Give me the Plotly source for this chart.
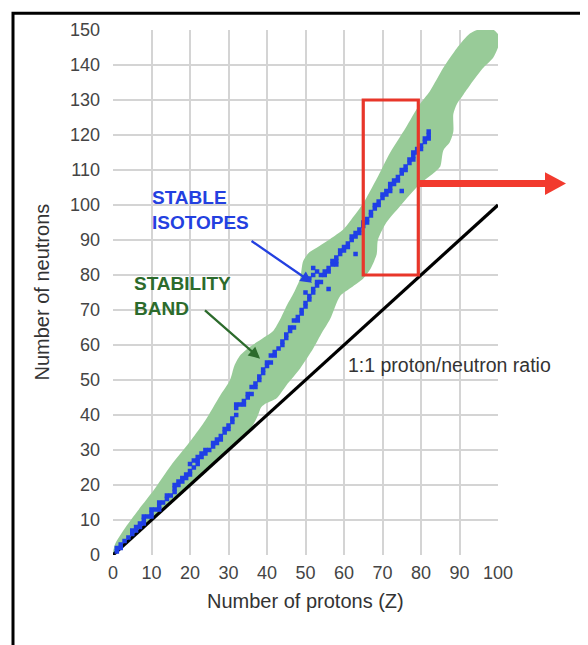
import plotly.graph_objects as go

# ---- data ----
# stable isotopes (protons Z, neutrons N)
iso_z = [1, 1, 2, 2, 3, 4, 5, 5, 6, 6, 7, 7, 8, 8, 8, 9, 10, 10, 10, 11, 12, 12, 12, 13,
         14, 14, 15, 16, 16, 16, 17, 17, 18, 18, 19, 19, 20, 20, 20, 21, 21, 22, 22, 22,
         23, 23, 24, 24, 25, 26, 26, 27, 27, 28, 28, 29, 29, 30, 30, 31, 31, 32, 32, 32,
         33, 34, 34, 35, 35, 36, 36, 37, 37, 38, 38, 39, 39, 40, 40, 41, 41, 42, 42, 43,
         44, 44, 45, 45, 46, 46, 47, 47, 48, 48, 49, 49, 50, 50, 50, 51, 51, 51, 52, 52,
         52, 52, 53, 53, 53, 54, 54, 55, 55, 56, 56, 56, 57, 57, 58, 58, 58, 59, 59, 60,
         60, 61, 61, 62, 62, 63, 63, 63, 64, 64, 65, 65, 66, 66, 67, 67, 68, 68, 69, 69,
         70, 70, 71, 71, 72, 72, 72, 73, 73, 74, 74, 75, 75, 75, 76, 76, 77, 77, 78, 78,
         78, 79, 79, 80, 80, 81, 81, 82, 82, 82]
iso_n = [1, 2, 2, 3, 4, 5, 6, 7, 7, 8, 8, 9, 9, 10, 11, 11, 11, 12, 13, 13, 13, 14, 15, 15,
         16, 17, 17, 18, 19, 20, 20, 21, 21, 22, 22, 23, 23, 24, 26, 25, 27, 26, 27, 28,
         28, 29, 29, 30, 30, 31, 32, 32, 33, 33, 34, 35, 36, 36, 37, 38, 39, 40, 42, 43,
         43, 43, 44, 45, 46, 46, 48, 48, 49, 50, 51, 52, 53, 54, 55, 55, 57, 57, 58, 59,
         60, 61, 62, 63, 64, 65, 65, 67, 67, 68, 69, 70, 71, 72, 75, 73, 74, 79, 75, 76,
         80, 82, 77, 78, 81, 78, 80, 80, 81, 81, 82, 76, 83, 84, 83, 84, 85, 86, 87, 87,
         88, 88, 89, 90, 91, 91, 92, 86, 92, 93, 94, 95, 95, 96, 97, 98, 99, 100, 100, 101,
         102, 103, 103, 104, 104, 105, 106, 106, 107, 107, 108, 104, 109, 110, 110, 111, 112, 113, 113, 114,
         115, 115, 116, 116, 117, 118, 119, 119, 120, 121]

# stability band outline (upper edge going up, lower edge coming back)
band_z = [0, 0.5, 3, 6, 10.5, 15, 20.4, 24, 27.8, 30.4, 31.5, 33, 35.6, 39, 41.6, 43.5,
          45.1, 47, 48.6, 49.4, 51, 52.9, 56.4, 59.8, 62, 65, 68.5, 72, 76, 79.5, 82.3,
          85.8, 89.3, 92.7, 96, 98.5, 100.5,
          100, 98.7, 96, 93.5, 91, 89.3, 88.4, 88.4, 87.5, 85.8, 85, 83.7, 79.7, 74.5, 71,
          68.8, 68.5, 67, 65, 62, 59, 56.4, 54, 52, 48.6, 45.1, 42.5, 39.9, 38.5, 37.5,
          36, 30, 25, 20, 15, 10, 5, 1.5, 0]
band_n = [0, 3, 7.5, 12, 18.4, 25.5, 33, 38.5, 45.5, 50, 54, 57, 59.5, 62, 64, 67.5,
          71.2, 75, 79, 84, 86.5, 87.8, 90.3, 93, 96, 100.5, 107.5, 115, 122, 128.5, 132.5,
          139.2, 144.8, 149, 150.5, 150.3, 148,
          145, 142, 139, 135.4, 131.5, 128.8, 126, 121, 118, 115.6, 111, 109.5, 106, 99.6, 95,
          90, 86, 82, 79, 76.5, 74, 67.4, 63, 59, 53.3, 48.6, 44.8, 43.4, 42.2, 39.5,
          36.5, 30, 24.5, 19.5, 14.5, 9.8, 5, 1.2, 0]

ratio_z = [0, 100]
ratio_n = [0, 100]

x_ticks = [0, 10, 20, 30, 40, 50, 60, 70, 80, 90, 100]
y_ticks = [0, 10, 20, 30, 40, 50, 60, 70, 80, 90, 100, 110, 120, 130, 140, 150]

# highlighted window (Z range, N range)
box_z = [65, 79.3]
box_n = [80, 130]

FONT = "Liberation Sans, Arial, sans-serif"

# plot area geometry (px) used for paper-coordinate decorations
PL, PW, PB, PH = 113, 385, 555, 530


def px_x(p):
    return (p - PL) / PW


def px_y(p):
    return (PB - p) / PH


fig = go.Figure()

fig.add_trace(go.Scatter(
    x=band_z, y=band_n, mode="lines", fill="toself",
    fillcolor="#98cb98", line=dict(width=0, shape="spline", smoothing=0.7),
    hoverinfo="skip", showlegend=False))

fig.add_trace(go.Scatter(
    x=ratio_z, y=ratio_n, mode="lines",
    line=dict(color="black", width=3.2), showlegend=False))

fig.add_trace(go.Scatter(
    x=iso_z, y=iso_n, mode="markers",
    marker=dict(symbol="square", size=4.5, color="#1f3fe6", line=dict(width=0)),
    showlegend=False))

# red window
fig.add_shape(type="rect", xref="x", yref="y",
              x0=box_z[0], x1=box_z[1], y0=box_n[0], y1=box_n[1],
              line=dict(color="#e8362a", width=3.2))

# red arrow (paper coords, extends beyond the plot)
ay = px_y(180)
fig.add_shape(type="line", xref="paper", yref="paper",
              x0=px_x(418), x1=px_x(548), y0=ay, y1=ay,
              line=dict(color="#f23a2e", width=7))
fig.add_shape(type="path", xref="paper", yref="paper",
              path=f"M {px_x(545)},{px_y(168.5)} L {px_x(566)},{ay} L {px_x(545)},{px_y(191.5)} Z",
              fillcolor="#f23a2e", line=dict(color="#f23a2e", width=0))

# frame around the whole picture
fig.add_shape(type="rect", xref="paper", yref="paper",
              x0=px_x(13), x1=px_x(586), y0=px_y(700), y1=px_y(8),
              line=dict(color="black", width=3))

# labels and pointer arrows
fig.add_annotation(x=9.6, y=98.5, xref="x", yref="y", xanchor="left", yanchor="middle",
                   text="<b>STABLE<br>ISOTOPES</b>", align="left", showarrow=False,
                   font=dict(family=FONT, size=19, color="#2340e0"))
fig.add_annotation(x=51.7, y=77.8, ax=35.6, ay=90, xref="x", yref="y", axref="x", ayref="y",
                   text="", showarrow=True, arrowhead=2, arrowsize=1, arrowwidth=2.3,
                   arrowcolor="#2340e0")
fig.add_annotation(x=5.0, y=74, xref="x", yref="y", xanchor="left", yanchor="middle",
                   text="<b>STABILITY<br>BAND</b>", align="left", showarrow=False,
                   font=dict(family=FONT, size=19, color="#2c6b2c"))
fig.add_annotation(x=38.2, y=56.1, ax=23.5, ay=70.3, xref="x", yref="y", axref="x", ayref="y",
                   text="", showarrow=True, arrowhead=2, arrowsize=1, arrowwidth=2.3,
                   arrowcolor="#2c6b2c")
fig.add_annotation(x=60.6, y=54.2, xref="x", yref="y", xanchor="left", yanchor="middle",
                   text="1:1 proton/neutron ratio", showarrow=False,
                   font=dict(family=FONT, size=19.5, color="#333333"))

# axis titles
fig.add_annotation(x=px_x(41), y=0.5, xref="paper", yref="paper",
                   xanchor="center", yanchor="middle",
                   text="Number of neutrons", textangle=-90, showarrow=False,
                   font=dict(family=FONT, size=20, color="#333333"))
fig.add_annotation(x=0.5, y=px_y(601), xref="paper", yref="paper",
                   xanchor="center", yanchor="middle",
                   text="Number of protons (Z)", showarrow=False,
                   font=dict(family=FONT, size=20, color="#333333"))

axis_common = dict(showgrid=True, gridcolor="#d4d4d4", gridwidth=1.5, zeroline=False,
                   showline=False, ticks="", tickfont=dict(family=FONT, size=18, color="#444444"))

fig.update_xaxes(range=[0, 100], tickvals=x_ticks, ticklabelstandoff=5, **axis_common)
fig.update_yaxes(range=[0, 150], tickvals=y_ticks, ticklabelstandoff=12, **axis_common)

# page has an 8px body margin, so the figure is shifted by 8px
fig.update_layout(
    width=580, height=637,
    margin=dict(l=105, r=90, t=17, b=90),
    paper_bgcolor="white", plot_bgcolor="white",
    font=dict(family=FONT),
    showlegend=False,
)

fig.write_html("out.html")
